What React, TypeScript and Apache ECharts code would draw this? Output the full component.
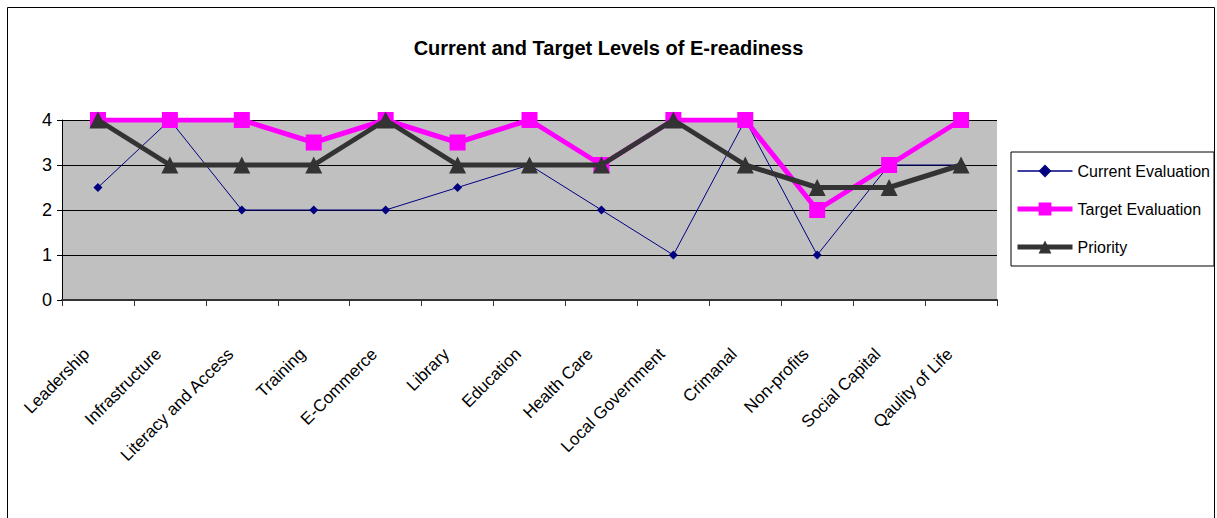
import React, { useEffect, useRef } from "react";
import * as echarts from "echarts";

const categories = [
  "Leadership",
  "Infrastructure",
  "Literacy and Access",
  "Training",
  "E-Commerce",
  "Library",
  "Education",
  "Health Care",
  "Local Government",
  "Crimanal",
  "Non-profits",
  "Social Capital",
  "Qaulity of Life",
];
const currentEvaluation = [2.5, 4, 2, 2, 2, 2.5, 3, 2, 1, 4, 1, 3, 3];
const targetEvaluation = [4, 4, 4, 3.5, 4, 3.5, 4, 3, 4, 4, 2, 3, 4];
const priority = [4, 3, 3, 3, 4, 3, 3, 3, 4, 3, 2.5, 2.5, 3];
const yTicks = [0, 1, 2, 3, 4];

const FONT = "'Liberation Sans', Arial, sans-serif";

export default function App() {
  const ref = useRef<HTMLDivElement>(null);
  useEffect(() => {
    if (!ref.current) return;
    const chart = echarts.init(ref.current, null, { renderer: "svg" });
    chart.setOption({
      animation: false,
      backgroundColor: "#ffffff",
      textStyle: { fontFamily: FONT },
      title: {
        text: "Current and Target Levels of E-readiness",
        left: "center",
        top: 33,
        textStyle: { fontFamily: FONT, fontSize: 20, fontWeight: "bold", color: "#000" },
      },
      graphic: [
        {
          type: "rect",
          shape: { x: 7.5, y: 7.5, width: 1207, height: 530 },
          style: { fill: "none", stroke: "#000", lineWidth: 1 },
          silent: true,
          z: 100,
        },
      ],
      legend: {
        orient: "vertical",
        left: 1011,
        top: 152,
        padding: [11, 4, 11, 4],
        itemGap: 22,
        itemWidth: 55,
        itemHeight: 16,
        borderColor: "#000",
        borderWidth: 1,
        backgroundColor: "#fff",
        textStyle: { fontFamily: FONT, fontSize: 16, color: "#000" },
        data: [
          { name: "Current Evaluation", lineStyle: { width: 1.5 } },
          { name: "Target Evaluation", lineStyle: { width: 5 } },
          { name: "Priority", lineStyle: { width: 5 } },
        ],
      },
      grid: {
        left: 62,
        right: 220,
        top: 120,
        bottom: 218,
        show: true,
        backgroundColor: "#c0c0c0",
        borderWidth: 0,
        outerBoundsMode: "none",
        containLabel: false,
      },
      xAxis: {
        type: "category",
        data: categories,
        boundaryGap: true,
        axisLine: { show: true, lineStyle: { color: "#333", width: 2 } },
        axisTick: { show: true, length: 6, lineStyle: { color: "#333" }, alignWithLabel: false },
        axisLabel: {
          rotate: 45,
          margin: 40,
          interval: 0,
          fontFamily: FONT,
          fontSize: 17,
          color: "#000",
          padding: [0, 16, 0, 0],
        },
        splitLine: { show: false },
      },
      yAxis: {
        type: "value",
        min: 0,
        max: 4,
        interval: 1,
        axisLine: { show: true, lineStyle: { color: "#000", width: 1 } },
        axisTick: { show: true, length: 5, lineStyle: { color: "#000" } },
        axisLabel: {
          fontFamily: FONT,
          fontSize: 18,
          color: "#000",
          margin: 10,
          formatter: (v: number) => (yTicks.includes(v) ? String(v) : ""),
        },
        splitLine: { show: true, lineStyle: { color: "#000", width: 1 } },
      },
      series: [
        {
          name: "Current Evaluation",
          type: "line",
          data: currentEvaluation,
          color: "#000080",
          lineStyle: { color: "#000080", width: 1 },
          itemStyle: { color: "#000080" },
          symbol: "diamond",
          symbolSize: 9,
          z: 2,
        },
        {
          name: "Target Evaluation",
          type: "line",
          data: targetEvaluation,
          color: "#ff00ff",
          lineStyle: { color: "#ff00ff", width: 5 },
          itemStyle: { color: "#ff00ff" },
          symbol: "rect",
          symbolSize: 16,
          z: 3,
        },
        {
          name: "Priority",
          type: "line",
          data: priority,
          color: "#333333",
          lineStyle: { color: "#333333", width: 5 },
          itemStyle: { color: "#333333" },
          symbol: "triangle",
          symbolSize: 17,
          z: 4,
        },
      ],
    });
    return () => chart.dispose();
  }, []);
  return (
    <div
      ref={ref}
      style={{ position: "absolute", left: 0, top: 0, width: 1217, height: 518 }}
    />
  );
}
